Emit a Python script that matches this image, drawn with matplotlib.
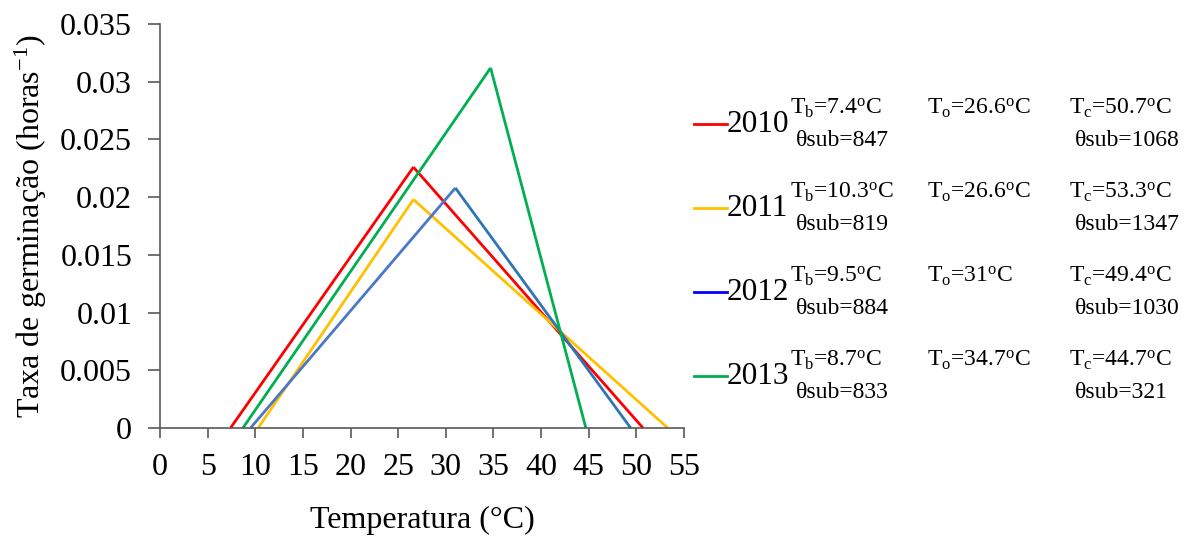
import matplotlib
matplotlib.use("Agg")
import matplotlib.pyplot as plt
from matplotlib.lines import Line2D

plt.rcParams['font.family'] = ['Liberation Serif', 'DejaVu Serif']
plt.rcParams['mathtext.fontset'] = 'custom'
plt.rcParams['mathtext.rm'] = 'Liberation Serif'
plt.rcParams['mathtext.it'] = 'Liberation Serif:italic'

# cardinal temperatures and peak germination rate per year
years = ['2010', '2011', '2012', '2013']
t_base = [7.4, 10.3, 9.5, 8.7]
t_opt = [26.6, 26.6, 31.0, 34.7]
t_ceil = [50.7, 53.3, 49.4, 44.7]
peak_rate = [0.0226, 0.0198, 0.0208, 0.0312]
theta_low = ['847', '819', '884', '833']
theta_high = ['1068', '1347', '1030', '321']
tb_txt = ['7.4', '10.3', '9.5', '8.7']
to_txt = ['26.6', '26.6', '31', '34.7']
tc_txt = ['50.7', '53.3', '49.4', '44.7']

# rising / falling colours of each line, and the legend swatch
rise_colors = ['#FF0000', '#FFC000', '#4A78C9', '#00B050']
fall_colors = ['#FF0000', '#FFC000', '#2E75B6', '#00B050']
legend_colors = ['#FF0000', '#FFC000', '#0000FF', '#00B050']

xticks = list(range(0, 60, 5))
yticks = [0, 0.005, 0.01, 0.015, 0.02, 0.025, 0.03, 0.035]
ytick_labels = ['0', '0.005', '0.01', '0.015', '0.02', '0.025', '0.03', '0.035']

W, H = 1192, 536
fig = plt.figure(figsize=(W / 100, H / 100), dpi=100)
ax = fig.add_axes([160 / W, 1 - 428 / H, 524 / W, 404 / H])

for i in range(len(years)):
    ax.plot([t_base[i], t_opt[i]], [0, peak_rate[i]], color=rise_colors[i],
            lw=2.0, solid_capstyle='butt', clip_on=False)
    ax.plot([t_opt[i], t_ceil[i]], [peak_rate[i], 0], color=fall_colors[i],
            lw=2.0, solid_capstyle='butt', clip_on=False)

ax.set_xlim(0, 55)
ax.set_ylim(0, 0.035)
ax.set_xticks(xticks)
ax.set_yticks(yticks)
ax.set_yticklabels(ytick_labels)
for s in ['top', 'right']:
    ax.spines[s].set_visible(False)
for s in ['left', 'bottom']:
    ax.spines[s].set_color('#595959')
    ax.spines[s].set_linewidth(1.2)
ax.tick_params(axis='x', direction='out', length=7, width=1.2, color='#595959',
               labelsize=23, pad=11)
ax.tick_params(axis='y', direction='out', length=9, width=1.2, color='#595959',
               labelsize=23, pad=11)

ax.set_xlabel('Temperatura (°C)', fontsize=23, labelpad=17)
ax.set_ylabel(r'Taxa de germinação (horas$^{\mathrm{-1}}$)', fontsize=23, labelpad=8)


def fx(px):
    return px / W


def fy(py):
    return 1 - py / H


deg = r'$^{\mathrm{o}}$C'

# legend block with the fitted parameters
for i in range(len(years)):
    yc = 124 + 84 * i
    fig.add_artist(Line2D([fx(694), fx(727)], [fy(yc), fy(yc)],
                          color=legend_colors[i], lw=2.0))
    fig.text(fx(727), fy(yc + 1), years[i], fontsize=22.5, va='center', ha='left')
    fig.text(fx(790), fy(yc - 16), r'T$_{\mathrm{b}}$=' + tb_txt[i] + deg,
             fontsize=17, va='center', ha='left')
    fig.text(fx(796), fy(yc + 16), 'θsub=' + theta_low[i],
             fontsize=17, va='center', ha='left')
    fig.text(fx(927), fy(yc - 16), r'T$_{\mathrm{o}}$=' + to_txt[i] + deg,
             fontsize=17, va='center', ha='left')
    fig.text(fx(1069), fy(yc - 16), r'T$_{\mathrm{c}}$=' + tc_txt[i] + deg,
             fontsize=17, va='center', ha='left')
    fig.text(fx(1075), fy(yc + 16), 'θsub=' + theta_high[i],
             fontsize=17, va='center', ha='left')

fig.savefig('out.png', dpi=100)
